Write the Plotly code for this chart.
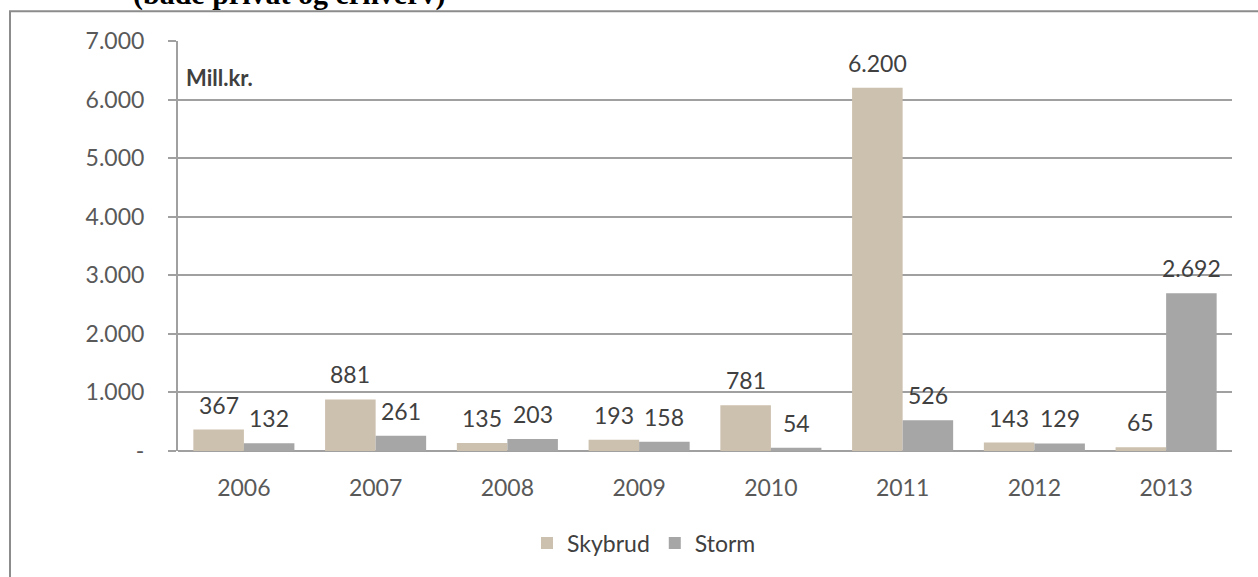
import plotly.graph_objects as go

years = ["2006", "2007", "2008", "2009", "2010", "2011", "2012", "2013"]
skybrud = [367, 881, 135, 193, 781, 6200, 143, 65]
storm = [132, 261, 203, 158, 54, 526, 129, 2692]
ytick_vals = [0, 1000, 2000, 3000, 4000, 5000, 6000, 7000]
ytick_text = ["-", "1.000", "2.000", "3.000", "4.000", "5.000", "6.000", "7.000"]

def fmt(v):
    return f"{v:,}".replace(",", ".")

FONT = "Lato"
FS = 23
W, H = 1258, 577
ML, MR, MT, MB = 178, 26, 41, 122
PW, PH = W - ML - MR, H - MT - MB

def px(xp):
    return (xp - ML) / PW

def py(yp):
    return (H - MB - yp) / PH

fig = go.Figure()
fig.add_trace(go.Bar(name="Skybrud", x=years, y=skybrud, marker_color="#CCC0AE",
                     marker_line_width=0))
fig.add_trace(go.Bar(name="Storm", x=years, y=storm, marker_color="#A6A6A6",
                     marker_line_width=0))

annotations = []
half = PW / len(years) * (1 - 0.233) / 4
for series, shift in ((skybrud, -half), (storm, half)):
    for i, v in enumerate(series):
        annotations.append(dict(x=i, y=v, xref="x", yref="y", text=fmt(v),
                                showarrow=False, xshift=shift, yshift=25,
                                yanchor="middle", xanchor="center",
                                font=dict(family=FONT, size=FS, color="#404040")))

annotations.append(dict(x=px(184), y=py(78), xref="paper", yref="paper",
                        text="<b>Mill.kr.</b>", showarrow=False, xanchor="left",
                        yanchor="middle", font=dict(family=FONT, size=22, color="#404040")))
annotations.append(dict(x=px(289), y=py(12), xref="paper", yref="paper",
                        text="<b>(både privat og erhverv)</b>", showarrow=False,
                        xanchor="center", yanchor="bottom", borderpad=0,
                        font=dict(family="Liberation Serif", size=30, color="#000000")))

fig.update_layout(
    width=W, height=H,
    margin=dict(l=ML, r=MR, t=MT, b=MB),
    paper_bgcolor="white", plot_bgcolor="white",
    barmode="group", bargap=0.233, bargroupgap=0,
    showlegend=True,
    legend=dict(orientation="h", x=px(644), y=py(548), xanchor="center",
                yanchor="middle", font=dict(family=FONT, size=FS, color="#404040"),
                itemsizing="constant", traceorder="normal", itemwidth=30),
    annotations=annotations,
    shapes=[dict(type="path", xref="paper", yref="paper",
                 path=f"M {px(10)} {py(600)} L {px(10)} {py(11)} L {px(1300)} {py(11)}",
                 line=dict(color="#8C8C8C", width=2))],
)
fig.update_xaxes(type="category", range=[-0.5, len(years) - 0.5],
                 showgrid=False, showline=False, ticks="",
                 tickfont=dict(family=FONT, size=FS, color="#595959"),
                 ticklabelstandoff=21)
fig.update_yaxes(range=[0, 7000], tickvals=ytick_vals, ticktext=ytick_text,
                 showgrid=True, gridcolor="#A0A0A0", gridwidth=2,
                 zeroline=True, zerolinecolor="#A0A0A0", zerolinewidth=2,
                 showline=True, linecolor="#A0A0A0", linewidth=2,
                 ticks="outside", ticklen=8, tickcolor="#A0A0A0", tickwidth=2,
                 tickfont=dict(family=FONT, size=FS, color="#595959"),
                 ticklabelstandoff=19)

fig.write_html("out.html", config={"displayModeBar": False},
               post_script="document.body.style.margin='0';document.body.style.padding='0';document.body.style.overflow='hidden';")
